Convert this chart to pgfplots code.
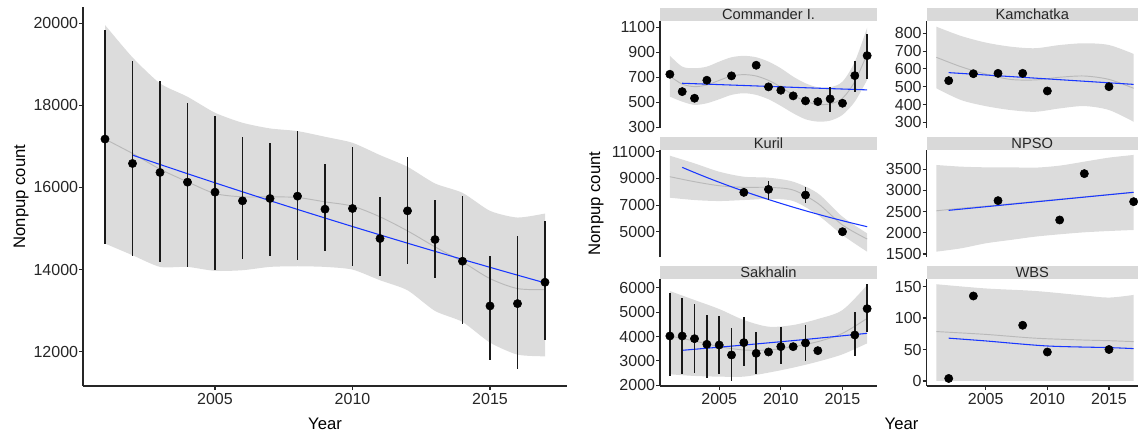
\documentclass[border=0pt]{standalone}
\usepackage{fontspec}
\setmainfont{Liberation Sans}
\usepackage{pgfplots}
\usepackage{pgfplotstable}
\pgfplotsset{compat=1.18}
\usepgfplotslibrary{fillbetween}

\definecolor{ribbon}{RGB}{220,220,220}
\definecolor{strip}{RGB}{217,217,217}
\definecolor{loess}{RGB}{185,185,185}
\definecolor{fitblue}{RGB}{25,55,255}

% ---- all counts ----
\pgfplotstableread{
year y ep em
2001 17180 2657 2562
2002 16585 2496 2260
2003 16366 2227 2179
2004 16130 1927 2065
2005 15886 1862 1902
2006 15675 1561 1407
2007 15732 1341 1407
2008 15789 1585 1545
2009 15472 1097 1025
2010 15488 1504 1407
2011 14756 1016 919
2012 15431 1301 1285
2013 14732 975 935
2014 14203 1586 1520
2015 13114 1219 1309
2016 13171 1642 1602
2017 13691 1488 1398
}\ptAll
\pgfplotstableread{
year lo hi mid
2001 14634 19959 17179
2002 14350 19170 16829
2003 14065 18537 16447
2004 14065 18211 16138
2005 13968 17821 15854
2006 13984 17577 15772
2007 14065 17439 15772
2008 14081 17374 15756
2009 14065 17236 15650
2010 14000 17089 15545
2011 13740 16789 15285
2012 13496 16504 14943
2013 12992 16098 14553
2014 12724 15870 14187
2015 12220 15431 13780
2016 11927 15268 13537
2017 11886 15366 13512
}\ribAll
\pgfplotstableread{
year fit
2002 16789
2003 16561
2004 16336
2005 16114
2006 15895
2007 15679
2008 15466
2009 15256
2010 15049
2011 14845
2012 14643
2013 14444
2014 14248
2015 14055
2016 13864
2017 13676
}\fitAll

% ---- Commander I. ----
\pgfplotstableread{
year y ep em
2001 724 0 0
2002 585 0 0
2003 532 0 0
2004 676 0 0
2006 711 0 0
2008 796 0 0
2009 623 0 0
2010 596 0 0
2011 551 0 0
2012 511 0 0
2013 505 0 0
2014 527 93 102
2015 492 0 0
2016 713 118 128
2017 873 171 189
}\ptCom
\pgfplotstableread{
year lo hi mid
2001 545 873 709
2002 505 785 645
2003 479 772 625
2004 492 785 638
2005 524 825 675
2006 559 860 710
2007 572 871 721
2008 559 860 710
2009 524 825 675
2010 471 772 622
2011 412 705 558
2012 364 652 508
2013 345 620 483
2014 353 620 487
2015 399 665 532
2016 505 825 665
2017 679 1097 888
}\ribCom
\pgfplotstableread{
year fit
2002 652
2007 634
2012 616
2017 599
}\fitCom

% ---- Kamchatka ----
\pgfplotstableread{
year y
2002 534
2004 573
2006 575
2008 575
2010 476
2015 500
}\ptKam
\pgfplotstableread{
year lo hi mid
2001 491 837 665
2003 425 785 612
2005 391 748 571
2007 369 725 541
2009 359 716 538
2011 378 734 553
2013 391 744 560
2015 369 734 541
2017 303 684 491
}\ribKam
\pgfplotstableread{
year fit
2002 579
2007 557
2012 535
2017 513
}\fitKam

% ---- Kuril ----
\pgfplotstableread{
year y ep em
2007 7950 300 275
2009 8175 625 800
2012 7750 625 625
2015 5000 0 0
}\ptKur
\pgfplotstableread{
year lo hi mid
2001 7550 10700 9125
2003 7375 10125 8750
2005 7300 9500 8450
2007 7375 9125 8325
2009 7450 9050 8325
2011 7300 8750 8125
2013 6250 7875 7125
2015 4750 6125 5500
2017 3500 4875 4450
}\ribKur
\pgfplotstableread{
year fit
2002 9825
2003 9438
2004 9066
2005 8709
2006 8366
2007 8036
2008 7719
2009 7415
2010 7123
2011 6842
2012 6572
2013 6313
2014 6064
2015 5825
2016 5596
2017 5375
}\fitKur

% ---- NPSO ----
\pgfplotstableread{
year y
2006 2760
2011 2303
2013 3398
2017 2736
}\ptNps
\pgfplotstableread{
year lo hi mid
2001 1555 3602 2520
2003 1634 3563 2580
2005 1752 3547 2630
2007 1831 3547 2685
2009 1909 3539 2740
2011 1965 3587 2795
2013 2012 3681 2850
2015 2043 3776 2905
2017 2067 3839 2957
}\ribNps
\pgfplotstableread{
year fit
2002 2531
2017 2957
}\fitNps

% ---- Sakhalin ----
\pgfplotstableread{
year y ep em
2001 4021 1747 1638
2002 4020 1570 1569
2003 3911 1420 1392
2004 3680 1201 1393
2005 3652 1188 1174
2006 3243 1092 1065
2007 3748 1037 942
2008 3311 887 860
2009 3366 0 0
2010 3584 792 724
2011 3584 0 0
2012 3734 737 737
2013 3420 0 0
2016 4062 955 861
2017 5140 996 942
}\ptSak
\pgfplotstableread{
year lo hi mid
2001 2451 5863 4020
2003 2383 5495 3816
2005 2355 5126 3584
2007 2355 4676 3448
2009 2519 4403 3448
2011 2724 4471 3584
2013 2970 4717 3789
2015 3270 5085 4130
2017 3720 6109 4744
}\ribSak
\pgfplotstableread{
year fit
2002 3434
2007 3650
2012 3880
2017 4130
}\fitSak

% ---- WBS ----
\pgfplotstableread{
year y
2002 4
2004 135
2008 88.5
2010 46
2015 50
}\ptWbs
\pgfplotstableread{
year lo hi mid
2001 0 153.7 78.5
2005 0 147 74
2009 0 143 68
2013 0 135.7 65
2015 0 132.5 64
2017 0 136.7 62.5
}\ribWbs
\pgfplotstableread{
year fit
2002 68
2005 63.6
2010 55.6
2015 53
2017 51.4
}\fitWbs

\pgfplotsset{
  gg/.style={scale only axis, anchor=south west,
    xmin=2000.2, xmax=2017.8,
    axis x line*=bottom, axis y line*=left,
    axis line style={-, line width=0.8pt, black!85},
    tick style={black!85, line width=0.8pt},
    tick align=outside, major tick length=3pt,
    xtick={2005,2010,2015}, scaled ticks=false,
    /pgf/number format/1000 sep={},
    /pgf/number format/assume math mode=true,
    tick label style={font=\fontsize{12}{14}\selectfont, text=black!85},
    yticklabel style={inner sep=0.5pt},
    xticklabel style={inner sep=2.5pt}},
  facet/.style={gg, width=162.75pt, height=80.25pt},
  % right column is cut by the picture's edge
  cut/.style={width=158.625pt, xmax=2017.354},
  inner/.style={axis x line=none},
  rib/.style={fill=ribbon, draw=none},
  lss/.style={loess, line width=0.7pt, smooth, tension=0.5},
  bl/.style={fitblue, line width=0.8pt, smooth},
  pt/.style={only marks, mark=*, mark size=3.1pt, mark options={draw=black, fill=black}},
  pte/.style={pt, error bars/.cd, y dir=both, y explicit, error mark=none,
    error bar style={line width=1.15pt, black!90}},
}

\newcommand\strip[2]{%
  \fill[strip] (#1.north west) rectangle ([yshift=9.75pt]#1.north east);
  \node[font=\fontsize{11}{13}\selectfont, text=black!85] at ([yshift=4.875pt]#1.north) {#2};}

\begin{document}
\begin{tikzpicture}

% left: all regions
\begin{axis}[gg, name=all, at={(62.25pt,35.25pt)}, width=363pt, height=284.25pt,
  ymin=11163, ymax=20398, ytick={12000,14000,16000,18000,20000}]
\addplot[draw=none, name path=allh, smooth, tension=0.4] table[x=year,y=hi]{\ribAll};
\addplot[draw=none, name path=alll, smooth, tension=0.4] table[x=year,y=lo]{\ribAll};
\addplot[rib] fill between[of=allh and alll];
\addplot[lss] table[x=year,y=mid]{\ribAll};
\addplot[bl] table[x=year,y=fit]{\fitAll};
\addplot[pte] table[x=year,y=y,y error plus=ep,y error minus=em]{\ptAll};
\end{axis}

% Commander I.
\begin{axis}[facet, inner, name=com, at={(495pt,228.75pt)},
  ymin=294, ymax=1150, ytick={300,500,700,900,1100}]
\addplot[draw=none, name path=comh, smooth] table[x=year,y=hi]{\ribCom};
\addplot[draw=none, name path=coml, smooth] table[x=year,y=lo]{\ribCom};
\addplot[rib] fill between[of=comh and coml];
\addplot[lss] table[x=year,y=mid]{\ribCom};
\addplot[bl] table[x=year,y=fit]{\fitCom};
\addplot[pte] table[x=year,y=y,y error plus=ep,y error minus=em]{\ptCom};
\end{axis}

% Kamchatka
\begin{axis}[facet, cut, inner, name=kam, at={(694.875pt,228.75pt)},
  ymin=268, ymax=869, ytick={300,400,500,600,700,800}]
\addplot[draw=none, name path=kamh, smooth] table[x=year,y=hi]{\ribKam};
\addplot[draw=none, name path=kaml, smooth] table[x=year,y=lo]{\ribKam};
\addplot[rib] fill between[of=kamh and kaml];
\addplot[lss] table[x=year,y=mid]{\ribKam};
\addplot[bl] table[x=year,y=fit]{\fitKam};
\addplot[pt] table[x=year,y=y]{\ptKam};
\end{axis}

% Kuril
\begin{axis}[facet, inner, name=kur, at={(495pt,132pt)},
  ymin=3103, ymax=11128, ytick={5000,7000,9000,11000}]
\addplot[draw=none, name path=kurh, smooth] table[x=year,y=hi]{\ribKur};
\addplot[draw=none, name path=kurl, smooth] table[x=year,y=lo]{\ribKur};
\addplot[rib] fill between[of=kurh and kurl];
\addplot[lss] table[x=year,y=mid]{\ribKur};
\addplot[bl] table[x=year,y=fit]{\fitKur};
\addplot[pte] table[x=year,y=y,y error plus=ep,y error minus=em]{\ptKur};
\end{axis}

% NPSO
\begin{axis}[facet, cut, inner, name=nps, at={(694.875pt,132pt)},
  ymin=1429, ymax=3956, ytick={1500,2000,2500,3000,3500}]
\addplot[draw=none, name path=npsh, smooth] table[x=year,y=hi]{\ribNps};
\addplot[draw=none, name path=npsl, smooth] table[x=year,y=lo]{\ribNps};
\addplot[rib] fill between[of=npsh and npsl];
\addplot[lss] table[x=year,y=mid]{\ribNps};
\addplot[bl] table[x=year,y=fit]{\fitNps};
\addplot[pt] table[x=year,y=y]{\ptNps};
\end{axis}

% Sakhalin
\begin{axis}[facet, name=sak, at={(495pt,35.25pt)},
  ymin=1971, ymax=6357, ytick={2000,3000,4000,5000,6000}]
\addplot[draw=none, name path=sakh, smooth] table[x=year,y=hi]{\ribSak};
\addplot[draw=none, name path=sakl, smooth] table[x=year,y=lo]{\ribSak};
\addplot[rib] fill between[of=sakh and sakl];
\addplot[lss] table[x=year,y=mid]{\ribSak};
\addplot[bl] table[x=year,y=fit]{\fitSak};
\addplot[pte] table[x=year,y=y,y error plus=ep,y error minus=em]{\ptSak};
\end{axis}

% WBS
\begin{axis}[facet, cut, name=wbs, at={(694.875pt,35.25pt)},
  ymin=-8, ymax=162, ytick={0,50,100,150}]
\addplot[draw=none, name path=wbsh, smooth] table[x=year,y=hi]{\ribWbs};
\addplot[draw=none, name path=wbsl] table[x=year,y=lo]{\ribWbs};
\addplot[rib] fill between[of=wbsh and wbsl];
\addplot[lss] table[x=year,y=mid]{\ribWbs};
\addplot[bl] table[x=year,y=fit]{\fitWbs};
\addplot[pt] table[x=year,y=y]{\ptWbs};
\end{axis}

\strip{com}{Commander I.}
\strip{kam}{Kamchatka}
\strip{kur}{Kuril}
\strip{nps}{NPSO}
\strip{sak}{Sakhalin}
\strip{wbs}{WBS}

\begin{scope}[every node/.style={font=\fontsize{12.5}{15}\selectfont, text=black}]
\node[rotate=90] at (15.75pt,177.375pt) {Nonpup count};
\node[rotate=90] at (447pt,172.125pt) {Nonpup count};
\node at (243.75pt,6.75pt) {Year};
\node at (676.125pt,6.75pt) {Year};
\end{scope}

\pgfresetboundingbox
\useasboundingbox (0,0) rectangle (853.5pt,324.75pt);
\end{tikzpicture}
\end{document}
